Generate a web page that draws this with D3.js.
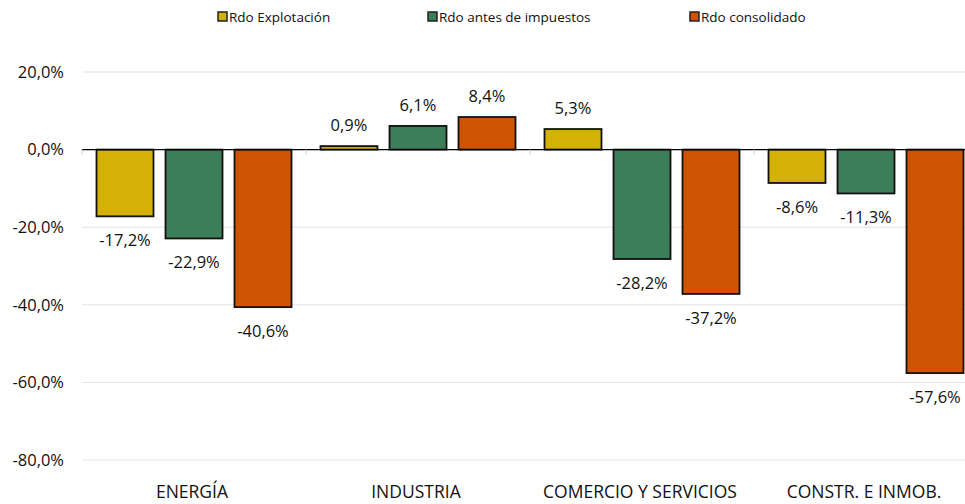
<!DOCTYPE html>
<html><head><meta charset="utf-8">
<script src="https://cdn.jsdelivr.net/npm/d3@7"></script>
<style>body{margin:0;background:#fff}svg{display:block}</style>
</head><body>
<svg id="c" width="965" height="504"></svg>
<script>
const categories = ["ENERGÍA", "INDUSTRIA", "COMERCIO Y SERVICIOS", "CONSTR. E INMOB."];
const seriesNames = ["Rdo Explotación", "Rdo antes de impuestos", "Rdo consolidado"];
const rdoExplotacion = [-17.2, 0.9, 5.3, -8.6];
const rdoAntesImpuestos = [-22.9, 6.1, -28.2, -11.3];
const rdoConsolidado = [-40.6, 8.4, -37.2, -57.6];
const yTicks = [20, 0, -20, -40, -60, -80];
const colors = ["#D4B106", "#3E7D5A", "#CF5300"];

const series = [rdoExplotacion, rdoAntesImpuestos, rdoConsolidado];
const svg = d3.select("#c");
const font = "'Open Sans', sans-serif";
const fmt = v => d3.format(".1f")(v).replace(".", ",").replace("−","-") + "%";

const x0 = d3.scaleBand().domain(categories).range([82, 978]).paddingInner(0).paddingOuter(0);
const x1 = d3.scaleBand().domain(d3.range(3)).range([0, x0.bandwidth()]).paddingInner(12/69).paddingOuter(0.21);
const y = d3.scaleLinear().domain([-80, 20]).range([460, 72]);

// gridlines
svg.append("g").selectAll("line").data(yTicks.filter(d => d !== 0)).join("line")
  .attr("x1", 82).attr("x2", 965).attr("y1", d => y(d)).attr("y2", d => y(d))
  .attr("stroke", "#e3e3e3").attr("stroke-width", 1);

// y labels
svg.append("g").selectAll("text").data(yTicks).join("text")
  .attr("x", 64).attr("y", d => y(d)).attr("dy", "0.35em").attr("text-anchor", "end")
  .attr("font-family", font).attr("font-size", 16.5).attr("fill", "#111")
  .text(d => d3.format(".1f")(d).replace(".", ",").replace("−","-") + "%");

// bars
const groups = svg.append("g").selectAll("g").data(categories).join("g")
  .attr("transform", d => `translate(${x0(d)},0)`);
groups.selectAll("rect").data((c, i) => series.map((s, k) => ({k, v: s[i]}))).join("rect")
  .attr("x", d => x1(d.k)).attr("width", x1.bandwidth())
  .attr("y", d => y(Math.max(0, d.v))).attr("height", d => Math.abs(y(d.v) - y(0)))
  .attr("fill", d => colors[d.k]).attr("stroke", "#111").attr("stroke-width", 1.8);

// zero axis line + ticks
svg.append("line").attr("x1", 82).attr("x2", 965).attr("y1", y(0)).attr("y2", y(0))
  .attr("stroke", "#000").attr("stroke-width", 1.2);
svg.append("g").selectAll("line").data([82, 306, 530, 754]).join("line")
  .attr("x1", d => d).attr("x2", d => d).attr("y1", y(0)).attr("y2", y(0) + 5)
  .attr("stroke", "#ccc");

// data labels
groups.selectAll("text").data((c, i) => series.map((s, k) => ({k, v: s[i]}))).join("text")
  .attr("x", d => x1(d.k) + x1.bandwidth() / 2)
  .attr("y", d => d.v >= 0 ? y(d.v) - 15 : y(d.v) + 30)
  .attr("text-anchor", "middle").attr("font-family", font).attr("font-size", 16.5).attr("fill", "#111")
  .text(d => fmt(d.v));

// category labels
svg.append("g").selectAll("text").data(categories).join("text")
  .attr("x", d => x0(d) + x0.bandwidth() / 2 - 2).attr("y", 498)
  .attr("text-anchor", "middle").attr("font-family", "'Liberation Sans Narrow', 'Open Sans', sans-serif")
  .attr("font-size", 17.5).attr("fill", "#111").text(d => d);

// legend
const legX = [218, 428, 690];
const leg = svg.append("g").selectAll("g").data(seriesNames).join("g")
  .attr("transform", (d, i) => `translate(${legX[i]},17)`);
leg.append("rect").attr("x", 0).attr("y", -5).attr("width", 9).attr("height", 9)
  .attr("fill", (d, i) => colors[i]).attr("stroke", "#222").attr("stroke-width", 1.5);
leg.append("text").attr("x", 11).attr("y", 0).attr("dy", "0.35em")
  .attr("font-family", font).attr("font-size", 13.5).attr("fill", "#111").text(d => d);
</script>
</body></html>
